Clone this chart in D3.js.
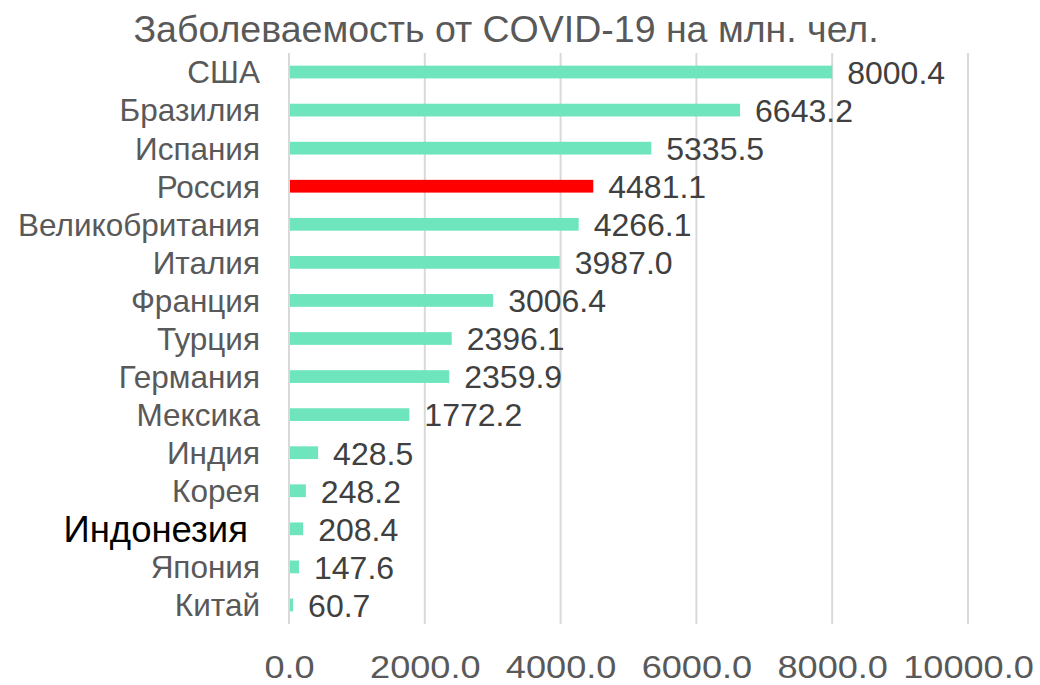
<!DOCTYPE html>
<html>
<head>
<meta charset="utf-8">
<script src="https://cdn.jsdelivr.net/npm/d3@7"></script>
<style>
  body { margin: 0; background: #fff; }
  text { font-family: "Liberation Sans", Arial, sans-serif; }
</style>
</head>
<body>
<div id="chart"></div>
<script>
const countries = ["США", "Бразилия", "Испания", "Россия", "Великобритания", "Италия", "Франция",
  "Турция", "Германия", "Мексика", "Индия", "Корея", "Индонезия", "Япония", "Китай"];
const cases = [8000.4, 6643.2, 5335.5, 4481.1, 4266.1, 3987.0, 3006.4,
  2396.1, 2359.9, 1772.2, 428.5, 248.2, 208.4, 147.6, 60.7];
const xTicks = [0, 2000, 4000, 6000, 8000, 10000];
const highlight = "Россия";
const emphasisLabel = "Индонезия";

const width = 1040, height = 685;
const margin = { top: 53, right: 72, bottom: 61, left: 289 };

const svg = d3.select("#chart").append("svg")
  .attr("width", width)
  .attr("height", height);

const x = d3.scaleLinear().domain([0, 10000]).range([margin.left, width - margin.right]);
const y = d3.scaleBand().domain(countries).range([margin.top, height - margin.bottom]).paddingInner(0.665).paddingOuter(0.3325);

// title
svg.append("text")
  .attr("x", 506)
  .attr("y", 42)
  .attr("text-anchor", "middle")
  .attr("fill", "#595959")
  .style("font-size", "37.5px")
  .text("Заболеваемость от COVID-19 на млн. чел.");

// gridlines
svg.append("g")
  .selectAll("line")
  .data(xTicks)
  .join("line")
  .attr("x1", d => x(d)).attr("x2", d => x(d))
  .attr("y1", margin.top).attr("y2", height - margin.bottom)
  .attr("stroke", "#d9d9d9")
  .attr("stroke-width", 2);

// x axis tick labels
const xAxis = svg.append("g")
  .attr("transform", `translate(0,${height - margin.bottom})`)
  .call(d3.axisBottom(x).tickValues(xTicks).tickFormat(d3.format(".1f")).tickSize(0).tickPadding(0));
xAxis.select(".domain").remove();
xAxis.selectAll("text")
  .attr("y", 54)
  .attr("dy", 0)
  .attr("fill", "#595959")
  .attr("transform", "scale(1.13,1)")
  .style("font-size", "32px")
  .style("font-family", "'Liberation Sans', Arial, sans-serif");

// bars
svg.append("g")
  .selectAll("rect")
  .data(countries)
  .join("rect")
  .attr("x", x(0) + 1)
  .attr("y", d => y(d))
  .attr("width", (d, i) => x(cases[i]) - x(0) - 1)
  .attr("height", y.bandwidth())
  .attr("fill", d => d === highlight ? "#ff0000" : "#6ee5bc");

// value labels
svg.append("g")
  .selectAll("text")
  .data(countries)
  .join("text")
  .attr("x", (d, i) => x(cases[i]) + 15)
  .attr("y", d => y(d) + y.bandwidth() / 2)
  .attr("dy", "0.37em")
  .attr("fill", "#404040")
  .style("font-size", "32px")
  .text((d, i) => d3.format(".1f")(cases[i]));

// category labels
svg.append("g")
  .selectAll("text")
  .data(countries)
  .join("text")
  .attr("x", d => d === emphasisLabel ? 248 : 260)
  .attr("y", d => y(d) + y.bandwidth() / 2)
  .attr("dy", "0.36em")
  .attr("text-anchor", "end")
  .attr("fill", d => d === emphasisLabel ? "#000" : "#595959")
  .style("font-size", d => d === emphasisLabel ? "36.5px" : "31.5px")
  .text(d => d);
</script>
</body>
</html>
